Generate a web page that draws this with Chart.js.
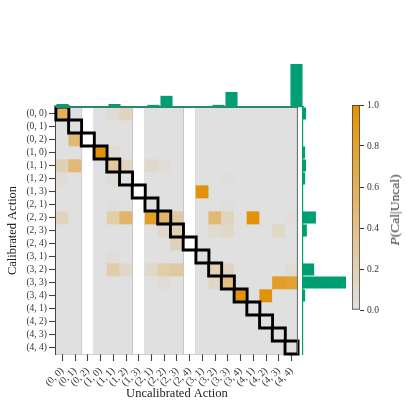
<!DOCTYPE html>
<html><head><meta charset="utf-8">
<script src="https://cdn.jsdelivr.net/npm/chart.js@4/dist/chart.umd.min.js"></script>
<style>
html,body{margin:0;padding:0;background:#fff;width:407px;height:419px;overflow:hidden;position:relative;}
canvas{position:absolute;}
#cbLabel{position:absolute;left:395px;top:210px;font-family:"Liberation Serif",serif;font-size:13.5px;color:#333;white-space:nowrap;transform:translate(-50%,-50%) rotate(-90deg);}
</style></head><body>
<canvas id="heat" width="310" height="419" style="left:0;top:0"></canvas>
<canvas id="top" width="310" height="110" style="left:0;top:0"></canvas>
<canvas id="right" width="50" height="260" style="left:300px;top:100px"></canvas>
<canvas id="cbar" width="67" height="225" style="left:340px;top:95px"></canvas>
<div id="cbLabel"><i>P</i>(Cal|Uncal)</div>
<script>
const categories = ['(0, 0)','(0, 1)','(0, 2)','(1, 0)','(1, 1)','(1, 2)','(1, 3)','(2, 1)','(2, 2)','(2, 3)','(2, 4)','(3, 1)','(3, 2)','(3, 3)','(3, 4)','(4, 1)','(4, 2)','(4, 3)','(4, 4)'];
const unobserved = ['(0, 2)','(1, 3)','(2, 4)'];
const N = null;
// rows: calibrated action, columns: uncalibrated action
const pCalGivenUncal = [
  [0.60,0,N,0,0.06,0.15,N,0,0,0,N,0,0,0,0,0,0,0,0],
  [0,0,N,0,0,0,N,0,0,0,N,0,0,0,0,0,0,0,0],
  [0,0.50,N,0,0,0,N,0,0,0,N,0,0,0,0,0,0,0,0],
  [0,0,N,1.00,0.06,0,N,0,0,0,N,0,0,0,0,0,0,0,0],
  [0.20,0.50,N,0,0.30,0.15,N,0.10,0.05,0,N,0,0,0,0,0,0,0,0],
  [0.05,0,N,0,0.05,0,N,0,0,0,N,0,0,0.03,0,0,0,0,0],
  [0,0,N,0,0,0,N,0,0,0,N,1.00,0,0,0,0,0,0,0],
  [0,0,N,0,0.03,0,N,0,0,0,N,0,0,0.03,0,0,0,0,0],
  [0.15,0,N,0,0.25,0.55,N,0.85,0.55,0.30,N,0,0.50,0.15,0,1.00,0,0,0.03],
  [0,0,N,0,0,0,N,0,0.10,0.20,N,0,0.08,0.12,0,0,0,0.12,0],
  [0,0,N,0,0,0,N,0,0,0.20,N,0,0,0,0,0,0,0,0],
  [0,0,N,0,0.04,0,N,0,0,0,N,0,0,0,0,0,0,0,0],
  [0,0,N,0,0.25,0.12,N,0.10,0.25,0.30,N,0,0.20,0.15,0,0,0,0,0.06],
  [0,0,N,0,0,0,N,0,0.05,0,N,0,0.12,0.45,0,0,0,0.85,0.80],
  [0,0,N,0,0,0,N,0,0,0,N,0,0,0,1.00,0,1.00,0,0],
  [0,0,N,0,0,0,N,0,0,0,N,0,0,0,0,0,0,0,0],
  [0,0,N,0,0,0,N,0,0,0,N,0,0,0,0,0,0,0,0],
  [0,0,N,0,0,0,N,0,0,0,N,0,0,0,0,0,0,0,0],
  [0,0,N,0,0,0,N,0,0,0,N,0,0,0,0,0,0,0,0]
];
const uncalFreq = [0.07,0,0,0,0.07,0,0,0.05,0.26,0,0,0,0.05,0.35,0,0,0,0,1.00];
const calFreq   = [0.07,0,0,0.05,0.07,0.05,0,0,0.30,0.09,0,0,0.26,1.00,0.05,0,0,0,0];
const cbRange = [0, 1];

const LOW = [224,224,224], HIGH = [226,146,8];
function cmap(v){
  const c = LOW.map((l,i)=>Math.round(l + (HIGH[i]-l)*v));
  return `rgb(${c[0]},${c[1]},${c[2]})`;
}
const SERIF = '"Liberation Serif", "Times New Roman", serif';
const GREEN = '#009E73';
const TXT = '#333';

const cellSets = pCalGivenUncal.map((row, r) => ({
  type: 'bar',
  data: categories.map(() => [r - 0.5, r + 0.5]),
  backgroundColor: row.map(v => v === null ? '#ffffff' : cmap(v)),
  borderColor: '#c6c6c6',
  borderWidth: (ctx) => unobserved.includes(categories[ctx.dataIndex]) ? {left:1,right:1,top:0,bottom:0} : 0,
  borderSkipped: false,
  grouped: false,
  barPercentage: 1,
  categoryPercentage: 1,
  order: 2
}));
const diagSet = {
  type: 'line',
  showLine: false,
  data: categories.map((c, i) => ({x: c, y: i})),
  pointStyle: 'rect',
  pointRadius: 9.2,
  pointBorderWidth: 2.9,
  pointBorderColor: '#000',
  pointBackgroundColor: 'rgba(0,0,0,0)',
  clip: false,
  order: 0
};

const framePlugin = {
  id: 'frame',
  afterDatasetsDraw(chart){
    const {ctx, chartArea:a} = chart;
    ctx.save();
    ctx.strokeStyle = '#666';
    ctx.lineWidth = 1;
    ctx.beginPath();
    ctx.moveTo(a.left, a.top + 0.5); ctx.lineTo(a.right, a.top + 0.5);
    ctx.moveTo(a.right - 0.5, a.top); ctx.lineTo(a.right - 0.5, a.bottom);
    ctx.stroke();
    ctx.restore();
  }
};

new Chart(document.getElementById('heat'), {
  type: 'bar',
  data: { labels: categories, datasets: [diagSet, ...cellSets] },
  options: {
    responsive: false, animation: false, devicePixelRatio: 1, events: [],
    layout: { padding: { top: 107, right: 7, left: 0, bottom: 0 } },
    plugins: { legend: {display:false}, tooltip: {enabled:false} },
    scales: {
      x: {
        type: 'category', offset: true,
        grid: { drawOnChartArea: false, offset: false, tickLength: 7, color: '#444', tickWidth: 1.1 },
        border: { color: '#444', width: 1.3 },
        ticks: { autoSkip: false, maxRotation: 45, minRotation: 45, padding: 4, color: TXT, font: { family: SERIF, size: 10 } },
        title: { display: true, text: 'Uncalibrated Action', color: '#222', font: { family: SERIF, size: 12.5 }, padding: { top: 0, bottom: 18 } },
        afterFit: s => { s.height = 65; }
      },
      y: {
        type: 'linear', min: -0.5, max: 18.5, reverse: true,
        afterBuildTicks: s => { s.ticks = categories.map((_, i) => ({ value: i })); },
        grid: { drawOnChartArea: false, tickLength: 7, color: '#444', tickWidth: 1.1 },
        border: { color: '#444', width: 1.3 },
        ticks: { autoSkip: false, padding: 2, color: TXT, font: { family: SERIF, size: 9.5 }, callback: v => categories[v] },
        title: { display: true, text: 'Calibrated Action', color: '#222', font: { family: SERIF, size: 12.5 }, padding: { top: 5, bottom: 0 } },
        afterFit: s => { s.width = 56; }
      }
    }
  },
  plugins: [framePlugin]
});

new Chart(document.getElementById('top'), {
  type: 'bar',
  data: { labels: categories, datasets: [{ data: uncalFreq, backgroundColor: GREEN, barPercentage: 0.93, categoryPercentage: 1 }] },
  options: {
    responsive: false, animation: false, devicePixelRatio: 1, events: [],
    layout: { padding: { top: 64, right: 7, left: 56, bottom: 3 } },
    plugins: { legend: {display:false}, tooltip: {enabled:false} },
    scales: {
      x: { display: true, ticks: { display: false }, grid: { display: false, drawTicks: false }, border: { color: GREEN, width: 1.2 }, afterFit: s => { s.height = 0; } },
      y: { display: false, min: 0, max: 1 }
    }
  }
});

new Chart(document.getElementById('right'), {
  type: 'bar',
  data: { labels: categories, datasets: [{ data: calFreq, backgroundColor: GREEN, barPercentage: 0.93, categoryPercentage: 1 }] },
  options: {
    indexAxis: 'y',
    responsive: false, animation: false, devicePixelRatio: 1, events: [],
    layout: { padding: { top: 7, right: 4, left: 3, bottom: 6 } },
    plugins: { legend: {display:false}, tooltip: {enabled:false} },
    scales: {
      y: { display: true, ticks: { display: false }, grid: { display: false, drawTicks: false }, border: { color: GREEN, width: 1.2 }, afterFit: s => { s.width = 0; } },
      x: { display: false, min: 0, max: 1 }
    }
  }
});

new Chart(document.getElementById('cbar'), {
  type: 'bar',
  data: { labels: [''], datasets: [{
    data: [cbRange],
    backgroundColor: (ctx) => {
      const a = ctx.chart.chartArea;
      if (!a) return cmap(0.5);
      const g = ctx.chart.ctx.createLinearGradient(0, a.bottom, 0, a.top);
      for (let i = 0; i <= 10; i++) g.addColorStop(i/10, cmap(i/10));
      return g;
    },
    borderColor: '#333', borderWidth: 1, borderSkipped: false,
    barPercentage: 1, categoryPercentage: 1
  }] },
  options: {
    responsive: false, animation: false, devicePixelRatio: 1, events: [],
    layout: { padding: { top: 10, right: 0, left: 12, bottom: 10 } },
    plugins: { legend: {display:false}, tooltip: {enabled:false} },
    scales: {
      x: { display: false },
      y: {
        position: 'right', min: 0, max: 1,
        grid: { drawOnChartArea: false, tickLength: 4, color: '#333' },
        border: { display: false },
        ticks: { stepSize: 0.2, padding: 3, color: TXT, font: { family: SERIF, size: 9.5 }, callback: v => v.toFixed(1) },
        afterFit: s => { s.width = 47; }
      }
    }
  }
});
</script>
</body></html>
